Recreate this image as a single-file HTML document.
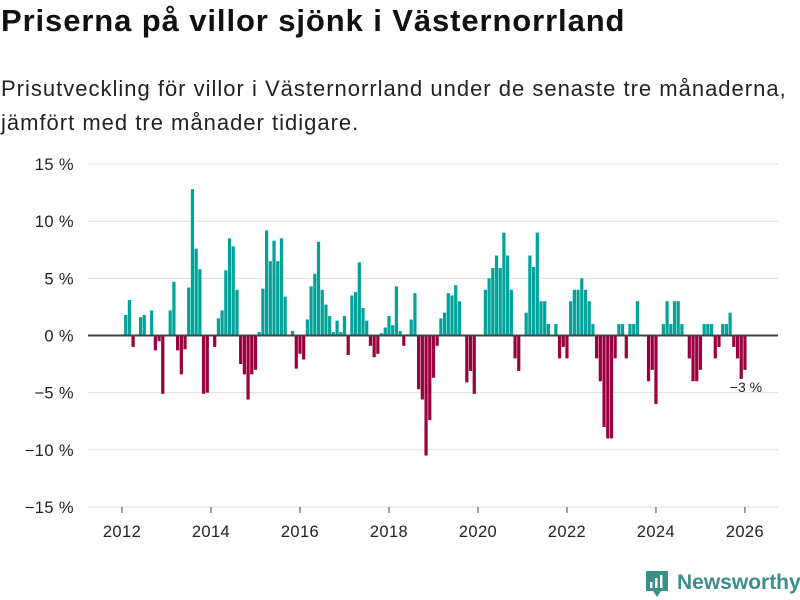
<!DOCTYPE html>
<html><head><meta charset="utf-8">
<style>
body{margin:0;background:#fff;width:800px;height:600px;overflow:hidden;font-family:"Liberation Sans","DejaVu Sans",sans-serif;color:#111;}
#title{position:absolute;left:1px;top:3px;font-size:31px;font-weight:bold;margin:0;letter-spacing:0.9px;white-space:nowrap;}
#subtitle{position:absolute;left:1px;top:72px;font-size:22px;line-height:34px;margin:0;color:#222;letter-spacing:1px;white-space:nowrap;}
svg{position:absolute;left:0;top:0;}
</style></head><body>
<h1 id="title">Priserna på villor sjönk i Västernorrland</h1>
<p id="subtitle">Prisutveckling för villor i Västernorrland under de senaste tre månaderna,<br>jämfört med tre månader tidigare.</p>
<svg id="chart" width="800" height="600"></svg>
<script>
const values = [0.1,1.8,3.1,-1.0,0.1,1.6,1.8,0,2.2,-1.3,-0.5,-5.1,
0,2.2,4.7,-1.3,-3.4,-1.2,4.2,12.8,7.6,5.8,-5.1,-5.0,
0,-1.0,1.5,2.2,5.7,8.5,7.8,4.0,-2.5,-3.4,-5.6,-3.4,
-3.0,0.3,4.1,9.2,6.5,8.3,6.5,8.5,3.4,0,0.4,-2.9,
-1.6,-2.1,1.4,4.3,5.4,8.2,4.0,2.7,1.7,0.3,1.3,0.3,
1.7,-1.7,3.5,3.8,6.4,2.4,1.3,-0.9,-1.9,-1.6,0.2,0.7,
1.7,0.9,4.3,0.4,-0.9,0.1,1.4,3.7,-4.7,-5.6,-10.5,-7.4,
-3.7,-0.9,1.5,2.0,3.7,3.5,4.4,3.0,0,-4.1,-3.1,-5.1,
0,0,4.0,5.0,5.9,7.0,5.9,9.0,7.0,4.0,-2.0,-3.1,
0,2.0,7.0,6.0,9.0,3.0,3.0,1.0,0,1.0,-2.0,-1.0,
-2.0,3.0,4.0,4.0,5.0,4.0,3.0,1.0,-2.0,-4.0,-8.0,-9.0,
-9.0,-2.0,1.0,1.0,-2.0,1.0,1.0,3.0,0,0,-4.0,-3.0,
-6.0,0,1.0,3.0,1.0,3.0,3.0,1.0,0,-2.0,-4.0,-4.0,
-3.0,1.0,1.0,1.0,-2.0,-1.0,1.0,1.0,2.0,-1.0,-2.0,-3.8,
-3.0];
const startYear = 2012;
const yTicks = [15,10,5,0,-5,-10,-15];
const xTickYears = [2012,2014,2016,2018,2020,2022,2024,2026];
const lastLabel = "−3 %";

const svg = document.getElementById('chart');
const NS = 'http://www.w3.org/2000/svg';
const y = v => 335.5 - v * 11.43;
const x = m => 122 + m * 3.708;
function mk(tag, attrs){const e=document.createElementNS(NS,tag);for(const k in attrs)e.setAttribute(k,attrs[k]);svg.appendChild(e);return e;}
const fmt = v => (v<0?'−'+(-v):''+v) + ' %';
yTicks.forEach(t=>{
  if(t!==0){const g=mk('line',{x1:88,x2:778,y1:y(t),y2:y(t),stroke:'#dedede','stroke-width':1});
  
  }
  const l=mk('text',{x:74,y:y(t)+6,'text-anchor':'end','font-size':16.5,fill:'#222','font-family':'Liberation Sans, sans-serif','letter-spacing':0.4});
  l.textContent=fmt(t);
  
  
});
values.forEach((v,i)=>{
  if(v===0)return;
  const top=Math.min(y(v),y(0)), h=Math.abs(y(v)-y(0));
  const r=mk('rect',{x:x(i)-1.6,y:top,width:3.2,height:h,fill:v>0?'#00a39a':'#99003d'});
  
  
});
const z=mk('line',{x1:88,x2:778,y1:y(0),y2:y(0),stroke:'#444','stroke-width':2});


xTickYears.forEach(yr=>{
  const m=(yr-startYear)*12;
  const t=mk('line',{x1:x(m),x2:x(m),y1:507,y2:513,stroke:'#444','stroke-width':1});
  
  
  const l=mk('text',{x:x(m),y:537,'text-anchor':'middle','font-size':16.5,fill:'#222','font-family':'Liberation Sans, sans-serif','letter-spacing':0.4});
  l.textContent=yr;
  
  
});
const li=values.length-1;
const lab=mk('text',{x:x(li)+1,y:y(values[li])+22,'text-anchor':'middle','font-size':14,fill:'#222','font-family':'Liberation Sans, sans-serif'});
lab.textContent=lastLabel;


</script>
<svg width="800" height="600" style="pointer-events:none">
  <path d="M646 571 h22 v20 h-7 l-4 6 l-4 -6 h-7 z" fill="#3a8f88"/>
  <rect x="650" y="582" width="2.5" height="6" fill="#fff"/>
  <rect x="655" y="578" width="2.5" height="10" fill="#fff"/>
  <rect x="660" y="575" width="2.5" height="13" fill="#fff"/>
  <text x="677" y="589" font-size="21" font-weight="bold" fill="#3a8f88" font-family="Liberation Sans, sans-serif">Newsworthy</text>
</svg>
</body></html>
